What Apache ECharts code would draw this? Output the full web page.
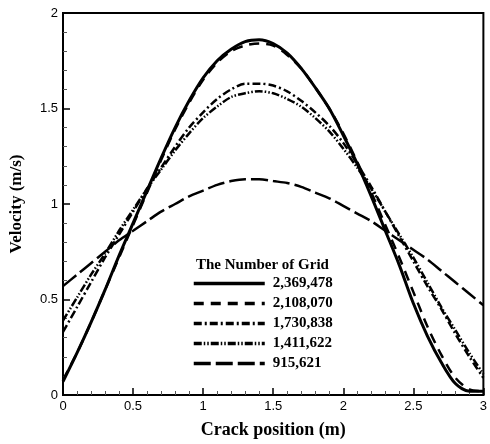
<!DOCTYPE html>
<html>
<head>
<meta charset="utf-8">
<script src="https://cdn.jsdelivr.net/npm/echarts@6/dist/echarts.min.js"></script>
<style>
html,body{margin:0;padding:0;background:#fff;}
#chart{width:490px;height:444px;}
</style>
</head>
<body>
<div id="chart"></div>
<script>
var xPos = [0,0.1,0.2,0.3,0.4,0.5,0.6,0.7,0.8,0.9,1.0,1.1,1.2,1.3,1.4,1.5,1.6,1.7,1.8,1.9,2.0,2.1,2.2,2.3,2.4,2.5,2.6,2.7,2.8,2.9,3.0];

var grid2369478 = [0.07,0.22,0.38,0.55,0.73,0.90,1.07,1.24,1.40,1.54,1.66,1.75,1.81,1.85,1.86,1.84,1.79,1.71,1.61,1.50,1.36,1.21,1.04,0.86,0.68,0.48,0.31,0.17,0.06,0.02,0.02];
var grid2108070 = [0.08,0.22,0.38,0.55,0.72,0.89,1.06,1.23,1.39,1.53,1.65,1.74,1.80,1.83,1.84,1.83,1.78,1.71,1.61,1.50,1.37,1.22,1.06,0.89,0.72,0.54,0.36,0.21,0.09,0.03,0.02];
var grid1730838 = [0.33,0.46,0.59,0.72,0.84,0.96,1.08,1.19,1.30,1.40,1.48,1.55,1.60,1.63,1.63,1.62,1.59,1.54,1.48,1.41,1.32,1.21,1.09,0.96,0.83,0.70,0.57,0.45,0.32,0.20,0.09];
var grid1411622 = [0.39,0.51,0.63,0.74,0.86,0.97,1.08,1.18,1.28,1.37,1.45,1.51,1.56,1.58,1.59,1.58,1.55,1.51,1.45,1.38,1.29,1.19,1.08,0.96,0.84,0.72,0.59,0.46,0.34,0.22,0.11];
var grid915621  = [0.57,0.63,0.69,0.75,0.81,0.86,0.91,0.96,1.00,1.04,1.07,1.10,1.12,1.13,1.13,1.12,1.11,1.09,1.06,1.03,0.99,0.95,0.91,0.86,0.81,0.76,0.71,0.65,0.59,0.53,0.47];

var gridNames = ['2,369,478','2,108,070','1,730,838','1,411,622','915,621'];
var tickLabels = ['0','0.5','1','1.5','2','2.5','3'];

var pairs = function(ys){
	var out = [];
	for (var i = 0; i < xPos.length; i++) {
		out.push([xPos[i], ys[i]]);
	}
	return out;
};

var mkSeries = function(name, ys, width, dash){
	return {
		name: name,
		type: 'line',
		data: pairs(ys),
		smooth: 0.3,
		symbol: 'none',
		lineStyle: { color: '#000', width: width, type: dash },
		itemStyle: { color: '#000' }
	};
};

var serif = 'Liberation Serif';
var sans = 'Liberation Sans';

var option = {
	animation: false,
	backgroundColor: '#fff',
	title: {
		text: 'The Number of Grid',
		left: 191,
		top: 253,
		textStyle: { fontFamily: serif, fontWeight: 'bold', fontSize: 15, color: '#000' }
	},
	legend: {
		orient: 'vertical',
		left: 192,
		top: 276,
		padding: 0,
		itemWidth: 71,
		itemHeight: 14,
		itemGap: 5,
		data: gridNames,
		itemStyle: { opacity: 0 },
		lineStyle: { width: 3.5 },
		textStyle: { fontFamily: serif, fontWeight: 'bold', fontSize: 15, color: '#000', padding: [0,0,0,3] }
	},
	grid: {
		left: 63,
		right: 2,
		top: 13,
		bottom: 46,
		show: true,
		borderColor: '#000',
		borderWidth: 2
	},
	xAxis: {
		type: 'value',
		min: 0,
		max: 3,
		interval: 0.5,
		name: 'Crack position (m)',
		nameLocation: 'middle',
		nameGap: 26,
		nameTextStyle: { fontFamily: serif, fontWeight: 'bold', fontSize: 18, color: '#000' },
		axisLine: { lineStyle: { color: '#000', width: 2 } },
		axisTick: { inside: true, length: 7, lineStyle: { color: '#000', width: 1.5 } },
		minorTick: { show: true, splitNumber: 5, length: 4, lineStyle: { color: '#555' } },
		splitLine: { show: false },
		axisLabel: {
			fontFamily: sans, fontSize: 13, color: '#000', margin: 5,
			formatter: function(v){ return tickLabels[Math.round(v * 2)]; }
		}
	},
	yAxis: {
		type: 'value',
		min: 0,
		max: 2,
		interval: 0.5,
		name: 'Velocity (m/s)',
		nameLocation: 'middle',
		nameGap: 38,
		nameTextStyle: { fontFamily: serif, fontWeight: 'bold', fontSize: 17, color: '#000' },
		axisLine: { lineStyle: { color: '#000', width: 2 } },
		axisTick: { inside: true, length: 7, lineStyle: { color: '#000', width: 1.5 } },
		minorTick: { show: true, splitNumber: 5, length: 4, lineStyle: { color: '#555' } },
		splitLine: { show: false },
		axisLabel: {
			fontFamily: sans, fontSize: 13, color: '#000', margin: 5,
			formatter: function(v){ return tickLabels[Math.round(v * 2)]; }
		}
	},
	series: [
		mkSeries(gridNames[0], grid2369478, 3, 'solid'),
		mkSeries(gridNames[1], grid2108070, 2.5, [10, 7]),
		mkSeries(gridNames[2], grid1730838, 2.5, [8, 3, 2, 3]),
		mkSeries(gridNames[3], grid1411622, 2.5, [8, 2, 1.5, 2, 1.5, 2]),
		mkSeries(gridNames[4], grid915621, 2.5, [17, 5])
	]
};

var chart = echarts.init(document.getElementById('chart'));
chart.setOption(option);
</script>
</body>
</html>
